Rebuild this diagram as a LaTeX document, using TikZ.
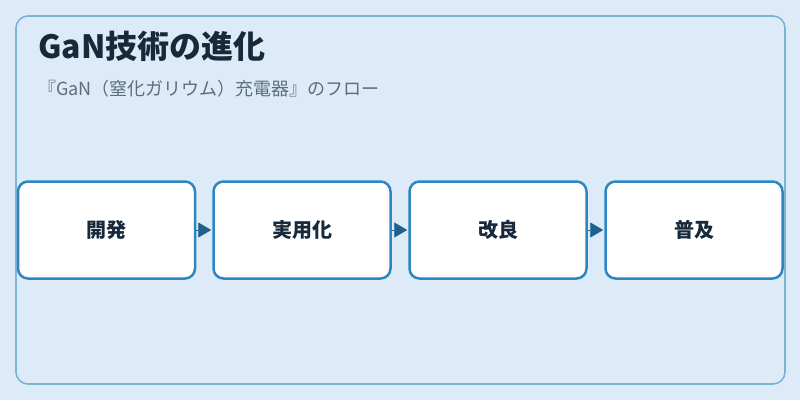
\documentclass[tikz,border=0pt]{standalone}
\usepackage{fontspec}
\setmainfont{Noto Sans CJK JP}
\usetikzlibrary{arrows.meta}
\definecolor{bgc}{HTML}{DCEBF7}
\definecolor{framec}{HTML}{7FB3D5}
\definecolor{boxc}{HTML}{2E86C1}
\definecolor{arrc}{HTML}{1F618D}
\definecolor{titlec}{HTML}{17293A}
\definecolor{subc}{HTML}{5D6D7E}
\tikzset{
  stagebox/.style={draw=boxc, fill=white, line width=2.5pt, rounded corners=10pt,
    minimum width=177pt, minimum height=97pt, inner sep=0pt,
    font=\fontsize{20}{24}\selectfont\bfseries, text=titlec},
  flow/.style={draw=arrc, line width=0.8pt, -{Triangle[length=13pt,width=15pt]}, shorten >=1pt}
}
\begin{document}
\begin{tikzpicture}[x=1pt,y=-1pt]
\fill[bgc] (0,0) rectangle (800,400);
\useasboundingbox (0,0) rectangle (800,400);
\draw[framec, line width=1.6pt, rounded corners=12pt] (16,16) rectangle (785,384);
\node[anchor=base west, inner sep=0pt, text=titlec, font=\fontsize{32}{36}\selectfont\bfseries] (title) at (38,58) {GaN技術の進化};
\node[anchor=base west, inner sep=0pt, text=subc, font=\fontsize{18}{22}\selectfont] (sub) at (38,95) {『GaN（窒化ガリウム）充電器』のフロー};
\node[stagebox] (s1) at (106.5,230) {開発};
\node[stagebox] (s2) at (302,230) {実用化};
\node[stagebox] (s3) at (498,230) {改良};
\node[stagebox] (s4) at (694,230) {普及};
\draw[flow] (s1.east) -- (s2.west);
\draw[flow] (s2.east) -- (s3.west);
\draw[flow] (s3.east) -- (s4.west);
\end{tikzpicture}
\end{document}
